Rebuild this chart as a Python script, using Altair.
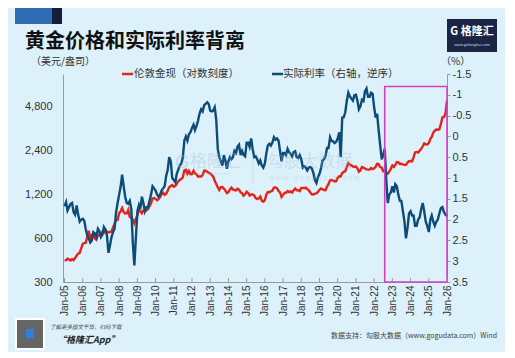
import altair as alt
import pandas as pd

# ---------------- data (monthly) ----------------
g2005 = [424, 423, 434, 429, 422, 431, 424, 438, 456, 470, 476, 510]
g2006 = [549, 555, 557, 610, 676, 596, 633, 632, 598, 586, 627, 629]
g2007 = [631, 665, 655, 680, 667, 655, 665, 665, 712, 754, 806, 803]
g2008 = [889, 922, 968, 909, 888, 889, 939, 839, 829, 806, 760, 816]
g2009 = [858, 943, 924, 890, 928, 946, 934, 949, 996, 1043, 1127, 1135]
g2010 = [1118, 1095, 1113, 1148, 1205, 1233, 1193, 1215, 1271, 1343, 1370, 1391]
g2011 = [1356, 1372, 1424, 1474, 1512, 1529, 1572, 1756, 1772, 1665, 1739, 1652]
g2012 = [1656, 1743, 1675, 1649, 1591, 1597, 1594, 1630, 1745, 1747, 1721, 1688]
g2013 = [1671, 1627, 1593, 1488, 1414, 1343, 1286, 1347, 1349, 1316, 1275, 1225]
g2014 = [1244, 1300, 1336, 1299, 1287, 1279, 1311, 1296, 1239, 1222, 1176, 1202]
g2015 = [1251, 1227, 1179, 1198, 1199, 1182, 1131, 1117, 1125, 1159, 1086, 1068]
g2016 = [1097, 1199, 1246, 1242, 1260, 1276, 1337, 1341, 1326, 1266, 1238, 1152]
g2017 = [1192, 1234, 1231, 1266, 1246, 1260, 1237, 1283, 1315, 1280, 1283, 1265]
g2018 = [1331, 1331, 1325, 1335, 1304, 1282, 1238, 1202, 1198, 1215, 1221, 1250]
g2019 = [1291, 1320, 1301, 1286, 1284, 1359, 1413, 1500, 1510, 1495, 1471, 1480]
g2020 = [1560, 1597, 1592, 1683, 1716, 1732, 1846, 1968, 1922, 1900, 1866, 1858]
g2021 = [1867, 1808, 1718, 1760, 1850, 1834, 1807, 1785, 1776, 1777, 1821, 1790]
g2022 = [1817, 1856, 1948, 1937, 1849, 1837, 1733, 1764, 1681, 1665, 1726, 1798]
g2023 = [1898, 1855, 1912, 2000, 1992, 1943, 1951, 1928, 1916, 1916, 1985, 2030]
g2024 = [2034, 2023, 2160, 2332, 2351, 2326, 2398, 2470, 2571, 2690, 2651, 2648]
g2025 = [2706, 2896, 2983, 3193, 3288, 3352, 3340, 3368, 3665, 4058, 4087, 4300]
g2026 = [5300]

r2005 = [1.68, 1.58, 1.78, 1.70, 1.62, 1.60, 1.82, 1.88, 1.66, 1.88, 2.05, 2.00]
r2006 = [1.98, 2.03, 2.22, 2.38, 2.45, 2.55, 2.50, 2.30, 2.33, 2.42, 2.22, 2.28]
r2007 = [2.42, 2.36, 2.18, 2.24, 2.38, 2.80, 2.62, 2.42, 2.30, 2.22, 1.82, 1.60]
r2008 = [1.40, 1.20, 0.92, 1.20, 1.45, 1.60, 1.62, 1.55, 1.75, 2.55, 3.10, 2.45]
r2009 = [1.80, 1.65, 1.75, 1.45, 1.60, 1.80, 1.70, 1.70, 1.55, 1.40, 1.20, 1.25]
r2010 = [1.30, 1.40, 1.45, 1.40, 1.30, 1.25, 1.20, 0.95, 0.80, 0.50, 0.60, 1.00]
r2011 = [1.05, 1.10, 0.90, 0.80, 0.70, 0.65, 0.50, 0.10, 0.00, 0.10, -0.05, -0.10]
r2012 = [-0.20, -0.28, -0.15, -0.25, -0.38, -0.55, -0.65, -0.60, -0.75, -0.78, -0.82, -0.78]
r2013 = [-0.62, -0.60, -0.62, -0.70, -0.40, 0.30, 0.50, 0.60, 0.70, 0.45, 0.58, 0.78]
r2014 = [0.60, 0.50, 0.55, 0.50, 0.35, 0.40, 0.25, 0.20, 0.45, 0.35, 0.45, 0.48]
r2015 = [0.15, 0.15, 0.25, 0.05, 0.30, 0.50, 0.48, 0.55, 0.65, 0.58, 0.70, 0.75]
r2016 = [0.65, 0.40, 0.22, 0.18, 0.22, 0.15, 0.02, 0.08, 0.05, 0.10, 0.35, 0.60]
r2017 = [0.40, 0.40, 0.45, 0.30, 0.38, 0.42, 0.48, 0.38, 0.36, 0.50, 0.52, 0.45]
r2018 = [0.55, 0.75, 0.72, 0.75, 0.82, 0.75, 0.74, 0.77, 0.88, 1.05, 1.12, 0.98]
r2019 = [0.90, 0.77, 0.58, 0.55, 0.48, 0.28, 0.28, 0.02, 0.11, 0.12, 0.16, 0.13]
r2020 = [0.05, -0.10, 0.50, -0.45, -0.46, -0.58, -0.85, -1.05, -0.96, -0.91, -0.86, -0.99]
r2021 = [-1.00, -0.85, -0.65, -0.72, -0.88, -0.85, -1.08, -1.15, -0.95, -0.95, -1.05, -1.02]
r2022 = [-0.70, -0.45, -0.55, -0.15, 0.20, 0.55, 0.45, 0.30, 1.05, 1.60, 1.40, 1.35]
r2023 = [1.20, 1.35, 1.15, 1.20, 1.40, 1.55, 1.55, 1.80, 2.05, 2.45, 2.20, 1.85]
r2024 = [1.80, 1.90, 1.90, 2.15, 2.15, 2.00, 1.95, 1.75, 1.60, 1.80, 2.05, 2.15]
r2025 = [2.30, 2.00, 1.90, 2.05, 2.15, 2.05, 2.00, 1.85, 1.72, 1.70, 1.82, 1.88]
r2026 = [1.92]

gold = (g2005 + g2006 + g2007 + g2008 + g2009 + g2010 + g2011 + g2012 + g2013 + g2014 +
        g2015 + g2016 + g2017 + g2018 + g2019 + g2020 + g2021 + g2022 + g2023 + g2024 +
        g2025 + g2026)
rate = (r2005 + r2006 + r2007 + r2008 + r2009 + r2010 + r2011 + r2012 + r2013 + r2014 +
        r2015 + r2016 + r2017 + r2018 + r2019 + r2020 + r2021 + r2022 + r2023 + r2024 +
        r2025 + r2026)

gold_ticks = [300, 600, 1200, 2400, 4800]
rate_ticks = [-1.5, -1, -0.5, 0, 0.5, 1, 1.5, 2, 2.5, 3, 3.5]
years = list(range(2005, 2027))

box_start = ["2022-08-01"]
box_end = ["2026-01-01"]
box_top = [-1.2]
box_bottom = [3.5]

title_text = "黄金价格和实际利率背离"
legend_gold = "伦敦金现（对数刻度）"
legend_rate = "实际利率（右轴，逆序）"
left_unit = "（美元/盎司）"
right_unit = "（%）"
source_text = "数据支持：勾股大数据（www.gogudata.com）Wind"

# ---------------- build ----------------
dates = pd.date_range("2005-01-01", periods=len(gold), freq="MS")
df = pd.DataFrame({"date": dates, "gold": gold, "rate": rate})
ticks_df = pd.DataFrame({"date": [pd.Timestamp(year=y, month=1, day=1) for y in years]})
box_df = pd.DataFrame({"date": pd.to_datetime(box_start), "end": pd.to_datetime(box_end),
                       "top": box_top, "bottom": box_bottom})
one = pd.DataFrame({"a": [0]})

W, H = 384, 208
CJK = "Noto Sans CJK SC"
LAT = "Liberation Sans"
RED = "#e3241b"
BLUE = "#0e4c78"
BG = "#dcf1fa"

x_scale = alt.Scale(domain=[alt.DateTime(year=2004, month=12, date=1),
                            alt.DateTime(year=2026, month=1, date=1)])
x_axis = alt.Axis(values=[alt.DateTime(year=y, month=1, date=1) for y in years],
                  format="%b-%y", labelAngle=270, labelAlign="right", labelBaseline="middle",
                  ticks=False, labelPadding=3, grid=False, title=None,
                  labelFont=LAT, labelFontSize=10, labelColor="#333333",
                  domainColor="#9a9a9a", labelOverlap=False)
X = alt.X("date:T", scale=x_scale, axis=x_axis, title=None)

gold_scale = alt.Scale(type="log", domain=[300, 8070], nice=False)
rate_scale = alt.Scale(domain=[-1.5, 3.5], reverse=True, nice=False, zero=False)

base = alt.Chart(df)

gold_line = base.mark_line(color=RED, strokeWidth=2.4).encode(
    x=X,
    y=alt.Y("gold:Q", scale=gold_scale,
            axis=alt.Axis(orient="left", values=gold_ticks, format=",", ticks=False,
                          labelPadding=11, grid=False, title=None, labelFont=LAT,
                          labelFontSize=11, labelColor="#333333", domainColor="#9a9a9a")),
)

rate_line = base.mark_line(color=BLUE, strokeWidth=2.4).encode(
    x=X,
    y=alt.Y("rate:Q", scale=rate_scale,
            axis=alt.Axis(orient="right", values=rate_ticks, labelExpr="'' + datum.value",
                          tickSize=3, tickColor="#9a9a9a", labelPadding=2, grid=False,
                          title=None, labelFont=LAT, labelFontSize=11,
                          labelColor="#333333", domainColor="#9a9a9a")),
)

box = alt.Chart(box_df).mark_rect(fillOpacity=0, stroke="#d43fc2", strokeWidth=1.6).encode(
    x=X,
    x2="end:T",
    y=alt.Y("top:Q", scale=rate_scale, axis=None),
    y2="bottom:Q",
)

xticks = alt.Chart(ticks_df).mark_rule(color="#9a9a9a", strokeWidth=1).encode(
    x=X,
    y=alt.value(H - 4), y2=alt.value(H),
)


def txt(s, x, y, size, color="#333333", weight="normal", align="left", font=CJK,
        style="normal", opacity=1.0, baseline="middle"):
    return alt.Chart(one).mark_text(
        align=align, baseline=baseline, font=font, fontSize=size, fontWeight=weight,
        fontStyle=style, color=color, opacity=opacity,
    ).encode(x=alt.value(x), y=alt.value(y), text=alt.value(s))


def box_px(x1, x2, y1, y2, color, opacity=1.0):
    return alt.Chart(one).mark_rect(color=color, opacity=opacity).encode(
        x=alt.value(x1), x2=alt.value(x2), y=alt.value(y1), y2=alt.value(y2))


def seg(x1, x2, y, color, width=2.5):
    return alt.Chart(one).mark_rule(color=color, strokeWidth=width).encode(
        x=alt.value(x1), x2=alt.value(x2), y=alt.value(y))


def vseg(x, y1, y2, color, width=1.0, opacity=1.0):
    return alt.Chart(one).mark_rule(color=color, strokeWidth=width, opacity=opacity).encode(
        x=alt.value(x), y=alt.value(y1), y2=alt.value(y2))


WM = "#9fbdd6"
decor = [
    box_px(-48, -11, -66, -50, "#2f6cb4"),
    box_px(-11, -1, -66, -50, "#161d3b"),
    txt(title_text, -38, -32, 20, color="#111111", weight="bold"),
    box_px(384, 434, -55, -22, "#1b2442"),
    txt("G 格隆汇", 409, -42, 11, color="#ffffff", weight="bold", align="center"),
    txt("www.gelonghui.com", 409, -29, 4, color="#c8d4e6", align="center", font=LAT),
    txt(left_unit, -32, -12, 10),
    txt(right_unit, 378, -12, 10),
    seg(59, 70, 0, RED),
    txt(legend_gold, 71, 0, 10.5),
    seg(209, 220, 0, BLUE),
    txt(legend_rate, 220, 0, 10.5),
    # watermark
    txt("G", 112, 89, 18, color=WM, weight="bold", font=LAT, opacity=0.35),
    txt("格隆汇", 127, 88, 17, color=WM, opacity=0.35),
    txt("www.gelonghui.com", 131, 100, 4, color=WM, font=LAT, opacity=0.35),
    vseg(190, 80, 110, WM, 1, 0.35),
    txt("勾股大数据", 204, 88, 17, color=WM, opacity=0.32),
    txt("w w w . g o g u d a t a . c o m", 206, 104, 7, color=WM, font=LAT, opacity=0.32),
    # footer
    box_px(-48, -18, 244, 276, "#ffffff"),
    box_px(-46, -20, 246, 274, "#4a4a4a", 0.85),
    box_px(-37, -29, 255, 264, "#2f7fe0"),
    txt("了解更多图文干货，扫码下载", -13, 253, 5.5, color="#444444", style="italic"),
    txt("“格隆汇App”", -6, 266, 9, color="#222222", weight="bold", style="italic"),
    txt(source_text, 434, 262, 7, color="#444444", align="right"),
]

chart = alt.layer(gold_line, rate_line, box, xticks, *decor).resolve_scale(
    y="independent"
).properties(
    width=W, height=H,
    autosize=alt.AutoSizeParams(type="none"),
    padding={"left": 55, "top": 66, "right": 58, "bottom": 70},
    background=BG,
).configure_view(stroke=None)

chart.save("out.html", embed_options={"renderer": "svg", "actions": False})
